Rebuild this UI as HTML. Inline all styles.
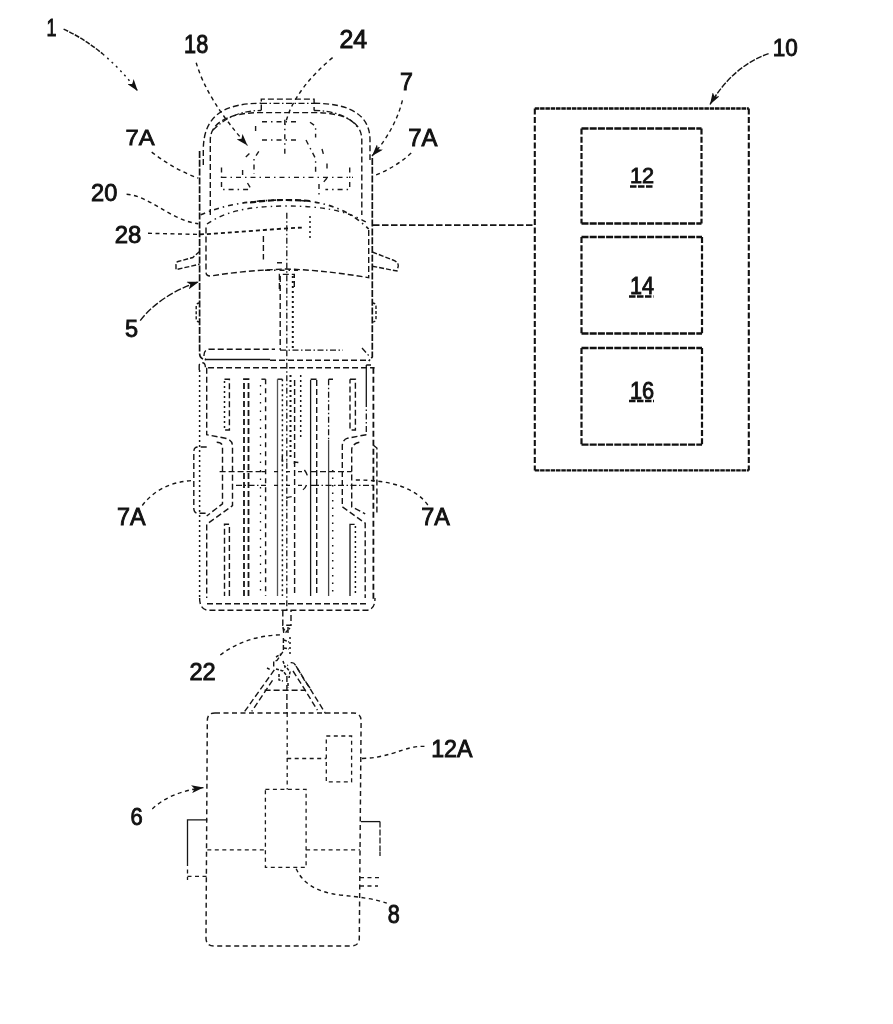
<!DOCTYPE html>
<html><head><meta charset="utf-8">
<style>
html,body{margin:0;padding:0;background:#fff;}
body{width:893px;height:1024px;overflow:hidden;}
svg{display:block;filter:grayscale(1);}
text{font-family:"Liberation Sans",sans-serif;font-weight:normal;font-size:24px;fill:#111;stroke:#111;stroke-width:0.9px;}
.d{fill:none;stroke:#151515;stroke-width:1.4;stroke-dasharray:6 3;}
.dd{fill:none;stroke:#151515;stroke-width:1.3;stroke-dasharray:6 2.5 1.5 2.5;}
.s{fill:none;stroke:#151515;stroke-width:1.3;}
.dt{fill:none;stroke:#151515;stroke-width:1.5;stroke-dasharray:2 3;}
.sp{fill:none;stroke:#1a1a1a;stroke-width:1.4;stroke-dasharray:5 4 1.5 4;}
.lt{fill:none;stroke:#1a1a1a;stroke-width:1.3;stroke-dasharray:4 3.5;}
.b{fill:none;stroke:#111;stroke-width:1.7;stroke-dasharray:7 1.8;}
.bxh{fill:none;stroke:#111;stroke-width:2.3;stroke-dasharray:4.5 0.8;}
.bxv{fill:none;stroke:#111;stroke-width:2.1;stroke-dasharray:6 2.5;}
.bih{fill:none;stroke:#111;stroke-width:2.3;stroke-dasharray:7 1.2;}
.biv{fill:none;stroke:#111;stroke-width:2.2;stroke-dasharray:6 2.2;}
.ld{fill:none;stroke:#151515;stroke-width:1.4;stroke-dasharray:4 3.5;}
.bx{fill:none;stroke:#111;stroke-width:2;stroke-dasharray:3.5 1.8;}
.bi{fill:none;stroke:#111;stroke-width:1.7;stroke-dasharray:5 2.5;}
.hv{fill:none;stroke:#111;stroke-width:2.2;stroke-dasharray:6 3;}
</style></head>
<body>
<svg width="893" height="1024" viewBox="0 0 893 1024">
<defs>
<marker id="ah" viewBox="0 0 12 8" refX="12" refY="4" markerWidth="12" markerHeight="8" markerUnits="userSpaceOnUse" orient="auto">
<path d="M0,0 L12,4 L0,8 L3,4 Z" fill="#111"/>
</marker>
</defs>
<!-- ===== Labels ===== -->
<text transform="translate(46.54,35.50) scale(0.75,1.029)">1</text>
<text transform="translate(184.10,52.90) scale(0.904,1.053)">18</text>
<text transform="translate(339.46,47.80) scale(1.036,1.047)">24</text>
<text transform="translate(400.03,90.30) scale(0.967,0.976)">7</text>
<text transform="translate(408.20,146.00) scale(0.997,1.000)">7A</text>
<text transform="translate(125.61,145.00) scale(0.990,0.953)">7A</text>
<text transform="translate(117.03,525.00) scale(0.972,0.965)">7A</text>
<text transform="translate(421.33,525.40) scale(0.972,0.965)">7A</text>
<text transform="translate(91.12,200.60) scale(0.984,1.006)">20</text>
<text transform="translate(114.70,242.60) scale(0.996,1.024)">28</text>
<text transform="translate(125.02,337.00) scale(0.983,0.965)">5</text>
<text transform="translate(189.42,679.90) scale(0.984,0.988)">22</text>
<text transform="translate(130.58,825.00) scale(0.917,1.006)">6</text>
<text transform="translate(431.13,756.90) scale(0.967,1.018)">12A</text>
<text transform="translate(387.80,922.70) scale(0.900,1.041)">8</text>
<text transform="translate(772.76,55.50) scale(0.940,1.006)">10</text>
<text transform="translate(629.89,183.40) scale(0.908,0.947)">12</text>
<text transform="translate(629.90,293.70) scale(0.900,0.982)">14</text>
<text transform="translate(629.89,398.70) scale(0.908,1.006)">16</text>
<path class="bi" d="M630,186.5 h23.5 M629,296.5 h24.5 M629,401 h25" style="stroke-width:2.4;stroke-dasharray:6.5 1.5"/>

<!-- ===== Leaders ===== -->
<path class="ld" d="M63.6,29.1 Q84.3,38.55 102.8,54.05" style="stroke-dasharray:5 1.3;stroke-width:1.5"/>
<path class="ld" d="M102.8,54.05 Q121.35,69.55 137.7,91.1" style="stroke-dasharray:2 4" marker-end="url(#ah)"/>
<path class="ld" d="M196.2,62.7 Q207,100 247.5,145.5" marker-end="url(#ah)"/>
<path class="ld" d="M332.6,57.6 Q300,85 288.7,113.2 L284.8,125"/>
<path class="ld" d="M402.4,100.4 Q395,130 372,156" marker-end="url(#ah)"/>
<path class="ld" d="M151.7,152.1 Q175,170 198.3,178.1"/>
<path class="ld" d="M411.2,153.1 Q395,168 373,176"/>
<path class="ld" d="M126.6,194.2 C150,196 170,220 198.3,223.8"/>
<path class="ld" d="M148,233.3 L200,234.4"/>
<path class="ld" d="M140.2,320.6 Q160,295 198.9,281.7" style="stroke-dasharray:7 2" marker-end="url(#ah)"/>
<path class="ld" d="M142.3,505.5 Q160,482 194,480.4"/>
<path class="ld" d="M427.8,505 Q410,480 355.7,480"/>
<path class="ld" d="M220.3,655 Q245,636 280.8,634.8"/>
<path class="ld" d="M152.3,808.9 Q170,792 203.5,787.6" marker-end="url(#ah)"/>
<path class="ld" d="M362,758.5 C385,758 400,750 410,748 C418,746 422,746.4 428,746.4"/>
<path class="ld" d="M296.2,868.7 C302,882 315,892 340,895 C360,897 375,899 386.8,903.2"/>
<path class="ld" d="M768.6,53.6 Q733,66 710,104.5" style="stroke-dasharray:6 1.5" marker-end="url(#ah)"/>

<!-- ===== Box 10 ===== -->
<path class="bxh" d="M534.8,108.5 L748.8,108.5 M534.8,470.4 L748.8,470.4"/>
<path class="bxv" d="M534.8,108.5 L534.8,470.4 M748.8,108.5 L748.8,470.4"/>
<path class="bih" d="M581.5,128.5 L701.5,128.5 M581.5,223.5 L701.5,223.5"/>
<path class="biv" d="M581.5,128.5 L581.5,223.5 M701.5,128.5 L701.5,223.5"/>
<path class="bih" d="M581.5,237 L702,237 M581.5,333.5 L702,333.5"/>
<path class="biv" d="M581.5,237 L581.5,333.5 M702,237 L702,333.5"/>
<path class="bih" d="M581.5,348 L702,348 M581.5,444.7 L702,444.7"/>
<path class="biv" d="M581.5,348 L581.5,444.7 M702,348 L702,444.7"/>
<path class="d" d="M373,225.2 L534,225.2" style="stroke-width:1.8;stroke-dasharray:6.5 2.5"/>

<!-- ===== Cab ===== -->
<g id="cab">
<path class="b" d="M199.6,151 L199.6,353 Q199.6,359.4 206,359.4"/>
<path class="b" d="M372.3,158 L372.3,357 L368.7,361"/>
<path class="d" d="M203.3,165 L203.3,150 C203.3,115 225,103.3 261,103.3 M314,103.3 C350,103.3 370,115 370,140 L370,160"/>
<path class="d" d="M261.3,110.5 L261.3,99.1 L314.1,99.1 L314.1,110.5"/>
<path class="dd" d="M261,103.3 L314,103.3"/>
<path class="d" d="M210.3,215 L210.3,140 C210.3,122 230,112.6 261,112.6 L314,112.6 C345,112.6 361.8,122 361.8,140 L361.8,215"/>
<path class="dd" d="M213,130 C225,118 240,110.5 261,110.5 M314,110.5 C335,110.5 352,118 358,128"/>
<!-- interior (sparse) -->
<path class="sp" d="M262,121.7 L297.8,121.7"/>
<path class="sp" d="M284.8,119.7 L284.8,153.8"/>
<path class="sp" d="M262,140 L297.8,140"/>
<path class="sp" d="M306,140 L315.6,158.7 L315.6,173.3 M310,122.2 L315.6,126.2 L315.6,137.6"/>
<path class="sp" d="M258.8,151.4 L254,158.7 L254,174 M245.8,157 L250,153"/>
<path class="sp" d="M322,149 L323.8,155.5 M327,163.6 L327,170"/>
<path class="sp" d="M221.5,177.4 L353,177.4"/>
<path class="sp" d="M221.5,167.6 L221.5,189.5 L250.7,189.5 M349.7,167.6 L349.7,189.5 L325.4,189.5"/>
<path class="sp" d="M247.5,183 L251.5,189.5 M327,178 L322,184"/>
<path class="sp" d="M242.6,170 L242.6,176.5 M255.6,126 L255.6,131"/>
<path class="sp" d="M319,184 L319,198"/>
<!-- windshield -->
<path class="sp" d="M200.6,214.8 C225,204 255,200 285.7,200 C318,200 345,206 368.7,229" style="stroke-width:1.6"/>
<path class="hv" d="M250,202.5 C265,200.6 275,200 285.7,200 C295,200 303,200.3 310,201"/>
<path class="sp" d="M207,224 C225,212 245,206.5 285,206 C320,206 345,210 366,222"/>
<!-- cabin box -->
<path class="d" d="M206,227.5 L206,272 Q206,276.5 211,276 C235,272 260,270 285.7,269 C320,270 345,274 368.7,277.6 L368.7,229"/>
<!-- 28 leader through cab -->
<path class="hv" d="M200,234.4 C230,233 270,229 302.8,227.5" style="stroke-width:1.8;stroke-dasharray:4 3"/>
<!-- console -->
<path class="d" d="M263.4,236 L263.4,259.5"/>
<path class="dt" d="M310,216 L310,240"/>
<path class="dd" d="M286.8,212.7 L286.8,612"/>
<path class="sp" d="M277,262.8 L285,262.8 M265,270.2 L298,270.2"/>
<path class="d" d="M279.4,289 L279.4,274.4 L294.3,274.4 L294.3,289"/>
<path class="d" d="M280.2,276 L280.2,350"/>
<path class="dt" d="M292.8,276 L292.8,350" style="stroke-width:2"/>
<!-- mirrors -->
<path class="d" d="M199.6,251.4 L192.8,257.5 L178,261.5 Q176,262 176,265 L176,269.6 L199.6,264.2" style="stroke-dasharray:5 2"/>
<path class="d" d="M372.3,252 L393,260 Q398.3,262 398.3,266 L397,271 L372.3,266.2" style="stroke-dasharray:5 2"/>
<!-- side bumps -->
<path class="d" d="M199.6,303 Q196.2,303 196.2,307 L196.2,318 Q196.2,322 199.6,322" style="stroke-dasharray:3 2"/>
<path class="d" d="M372.3,303 Q376,303 376,307 L376,318 Q376,322 372.3,322" style="stroke-dasharray:3 2"/>
<!-- rear of cab -->
<path class="d" d="M204,356 Q203.6,349.2 210,349.2 L275,349.2"/>
<path class="dd" d="M280,350.2 L343,350.2"/>
<path class="dd" d="M362,348 L370,357"/>
<path class="s" d="M204.8,359.5 L270,359.5"/>
<path class="d" d="M270,360.3 L368.7,360.3"/>
</g>

<!-- ===== Bed ===== -->
<g id="bed">
<path class="d" d="M199.2,370 L199.2,366 Q199.2,362.8 202.3,362.8 Q205.4,362.8 205.4,367.7 L374.6,367.7"/>
<path class="dt" d="M199.6,370 L199.6,600"/>
<path class="d" d="M206.7,367.7 L206.7,434.7 L225.4,438.2 Q232.5,440 232.5,446 L232.5,505.6 L206.7,524.3 L206.7,598"/>
<path class="s" d="M366.3,365 L371,365 M366.3,365 L366.3,401"/>
<path class="dd" d="M366.3,401 L366.3,434.7"/>
<path class="d" d="M366.3,434.7 L347.6,438.2 Q342.3,440 342.3,446 L342.3,506.8 L365.2,523.2 L365.2,598"/>
<path class="d" d="M216.7,442.3 Q222.5,442.3 222.5,447 L222.5,503.8 L206.7,516 M359.3,442.3 Q351.7,444 351.7,450 L351.7,506.8 L365.2,513.8"/>
<path class="hv" d="M373.4,367.7 L373.4,600" style="stroke-width:1.8"/>
<!-- wheels -->
<path class="d" d="M206.7,447 L198,447 Q193.8,447 193.8,452 L193.8,508 Q193.8,513.2 198,513.2 L206.7,513.2"/>
<path class="d" d="M373.4,445.2 L376.9,448 L376.9,512.6 L373.4,512.6"/>
<!-- upper short slots -->
<path class="dt" d="M224.5,381 L224.5,428"/>
<path class="d" d="M224.5,379.2 L229.4,379.2 L229.4,430 L225,430"/>
<path class="d" d="M350,379.2 L355.4,379.2 L355.4,430 L350,430 L350,379.2"/>
<!-- lower short slots -->
<path class="d" d="M229.4,596 L229.4,524.3 L224.5,524.3 L224.5,596"/>
<path class="dt" d="M355.4,526 L355.4,596"/>
<path class="s" d="M350,596 L350,524.3 L354.6,524.3"/>
<!-- long slots -->
<path class="d" d="M244,596 L244,379.2 L248.5,379.2 L248.5,596" style="stroke-width:1.8"/>
<path class="d" d="M261.4,379.2 L265.6,379.2"/>
<path class="dt" d="M260.5,385 L260.5,596" style="stroke-dasharray:1.5 7;stroke-width:1.3"/>
<path class="d" d="M265.6,379.2 L265.6,596" style="stroke-dasharray:5 4"/>
<path class="d" d="M277.5,379.2 L282.4,379.2"/>
<path class="s" d="M277.5,379.2 L277.5,596" style="stroke:#555"/>
<path class="dt" d="M282.4,379.2 L282.4,596"/>
<path class="dt" d="M290.5,375 L290.5,460" style="stroke-width:2"/>
<path class="d" d="M294.6,380 L294.6,596"/>
<path class="dt" d="M300.7,375 L300.7,440"/>
<path class="s" d="M310.6,380 L310.6,596"/>
<path class="d" d="M316.7,380 L316.7,596"/>
<path class="dd" d="M328.6,379.2 L328.6,440"/>
<path class="s" d="M328.6,440 L328.6,596" style="stroke:#444"/>
<path class="dt" d="M332.7,470 L332.7,596" style="stroke-dasharray:1.5 6"/>
<path class="d" d="M310.6,379.2 L316.7,379.2 M328.6,379.2 L333,379.2"/>
<!-- axle -->
<path class="d" d="M219.6,471.6 L262,471.6 M311,471.6 L351.7,471.6"/>
<path class="d" d="M262,471.6 L311,471.6" style="stroke-dasharray:4 8"/>
<path class="dd" d="M236,485.3 L262,485.3 M313,485.3 L374,485.3"/>
<path class="dd" d="M262,485.3 L313,485.3" style="stroke-dasharray:4 8"/>
<path class="d" d="M294.4,464 L294.4,462 L298.4,462.5 M304.4,470 Q307.5,474 307.5,477 M306.5,485 Q305,489 302.4,490 M282.3,456 L282.3,461 L287.3,461 M286.3,498.5 Q288,496.5 294.4,496.5"/>
<!-- tailgate -->
<path class="d" d="M207,603.8 L367.5,603.8"/>
<path class="d" d="M199.6,598 Q199.6,610.3 209,610.3 L366,610.3 Q375,610.3 375,598"/>
</g>

<!-- ===== Hitch ===== -->
<g id="hitch">
<path class="d" d="M282.8,610.6 L282.8,625.2 L291,625.2 L291,610.6"/>
<path class="d" d="M283,627 L284,635 M288,627 L288,635"/>
<path class="d" d="M283.4,638 L283.4,651 L277,660.5 L273.7,661.5 L273.7,666.5" style="stroke-dasharray:5 2"/>
<path class="dt" d="M290,637 L290,657"/>
<path class="d" d="M290.7,662.8 Q294,662 296,666 L304.2,679.8 L310,688"/>
<path class="d" d="M293,671 L304.2,688.6 L317.4,710.2"/>
<path class="d" d="M296,666 L325.6,713.7"/>
<path class="d" d="M274.3,669.9 L244.7,711.4"/>
<path class="d" d="M272.5,680.4 L251.7,711.4"/>
<path class="d" d="M276,657 L281,654 M283,661 L285,667 L288,665 M276,669 L283,671 L287,676 M279,674 L279,680 L283,681 M287,668 L290,672 L289,678 M288,683 L288,688 M267,668 L271,670 M284,640 L289,642 M284,648 L289,649 M283,628 L286,632 L290,628" style="stroke-dasharray:3 1.5;stroke-width:1.5"/>
<path class="d" d="M264.6,690.3 L305.6,690.3"/>
<path class="d" d="M286.9,676 L286.9,713"/>
</g>

<!-- ===== Trailer ===== -->
<g id="trailer">
<path class="lt" d="M215,712.9 L353,712.9 Q361.1,712.9 361.1,721 L359.3,938 Q359.3,946 351,946 L214,946 Q206,946 206,938 L207.3,721 Q207.3,712.9 215,712.9 Z" style="stroke-width:1.45;stroke-dasharray:5 3.5"/>
<path class="lt" d="M287.2,712.9 L287.2,789.4"/>
<rect class="lt" x="265.4" y="789.4" width="40.7" height="78"/>
<path class="lt" d="M207.3,849.9 L265.4,849.9 M306.1,849.9 L360,849.9"/>
<rect class="lt" x="326.3" y="736" width="25.3" height="45.9"/>
<path class="lt" d="M287.2,758.5 L326.3,758.5"/>
<path class="s" d="M207.3,819.8 L187.5,819.8 L187.5,862"/>
<path class="lt" d="M187.5,862 L187.5,880 M187.5,876.4 L207.3,876.4"/>
<path class="s" d="M361,821.6 L380,821.6"/>
<path class="lt" d="M380,821.6 L380,852" style="stroke-dasharray:6 2"/>
<path class="lt" d="M380,852 L380,857 M360,877.7 L380,877.7 M360,886 L378,886"/>
</g>
</svg>
</body></html>
